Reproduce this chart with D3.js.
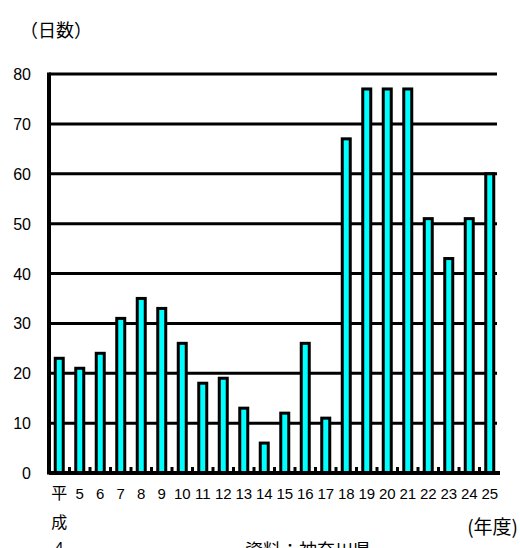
<!DOCTYPE html>
<html>
<head>
<meta charset="utf-8">
<script src="https://cdn.jsdelivr.net/npm/d3@7"></script>
<style>
  body { margin: 0; background: #fff; }
  svg { display: block; }
  text { font-family: "Liberation Sans", Arial, sans-serif; fill: #000; }
  .jp { font-family: "Noto Sans CJK JP", sans-serif; }
</style>
</head>
<body>
<div id="chart"></div>
<script>
// data
var years = ["平", "5", "6", "7", "8", "9", "10", "11", "12", "13", "14",
             "15", "16", "17", "18", "19", "20", "21", "22", "23", "24", "25"];
var days = [23, 21, 24, 31, 35, 33, 26, 18, 19, 13, 6,
            12, 26, 11, 67, 77, 77, 77, 51, 43, 51, 60];
var yTicks = [0, 10, 20, 30, 40, 50, 60, 70, 80];

var width = 520, height = 548;
var margin = {top: 74, right: 20, bottom: 75, left: 49};

var svg = d3.select("#chart").append("svg")
  .attr("width", width)
  .attr("height", height);

var x = d3.scaleBand()
  .domain(d3.range(years.length))
  .range([margin.left, width - margin.right])
  .paddingInner(0).paddingOuter(0);

var y = d3.scaleLinear()
  .domain([0, 80])
  .range([height - margin.bottom, margin.top]);

// gridlines
svg.append("g").selectAll("line")
  .data(yTicks.filter(function(d){ return d > 0; }))
  .enter().append("line")
    .attr("x1", margin.left)
    .attr("x2", width - margin.right - 3)
    .attr("y1", function(d){ return y(d); })
    .attr("y2", function(d){ return y(d); })
    .attr("stroke", "#000")
    .attr("stroke-width", 3);

// y labels
svg.append("g").selectAll("text")
  .data(yTicks)
  .enter().append("text")
    .attr("x", 31)
    .attr("y", function(d){ return y(d) + 6; })
    .attr("text-anchor", "end")
    .style("font-size", "16px")
    .text(function(d){ return d; });

// small ticks between bars
svg.append("g").selectAll("rect")
  .data(d3.range(1, years.length))
  .enter().append("rect")
    .attr("x", function(d){ return x(d) - 1.5; })
    .attr("y", y(0) - 6)
    .attr("width", 3)
    .attr("height", 6)
    .attr("fill", "#000");

// bars
var bw = 8;
svg.append("g").selectAll("rect")
  .data(days)
  .enter().append("rect")
    .attr("x", function(d, i){ return x(i) + x.bandwidth() / 2 - bw / 2; })
    .attr("y", function(d){ return y(d); })
    .attr("width", bw)
    .attr("height", function(d){ return y(0) - y(d); })
    .attr("fill", "#00ffff")
    .attr("stroke", "#000")
    .attr("stroke-width", 3);

// axes lines
svg.append("line")
  .attr("x1", margin.left).attr("x2", margin.left)
  .attr("y1", y(80) - 1.5).attr("y2", y(0) + 1.5)
  .attr("stroke", "#000").attr("stroke-width", 4);
svg.append("line")
  .attr("x1", margin.left).attr("x2", width - margin.right)
  .attr("y1", y(0)).attr("y2", y(0))
  .attr("stroke", "#000").attr("stroke-width", 4);

// x labels
svg.append("g").selectAll("text")
  .data(years)
  .enter().append("text")
    .attr("class", function(d, i){ return i === 0 ? "jp" : null; })
    .attr("x", function(d, i){ return x(i) + x.bandwidth() / 2; })
    .attr("y", 499)
    .attr("text-anchor", "middle")
    .style("font-size", function(d, i){ return i === 0 ? "16px" : "15px"; })
    .text(function(d){ return d; });

svg.append("text").attr("class", "jp")
  .attr("x", x(0) + x.bandwidth() / 2).attr("y", 528)
  .attr("text-anchor", "middle").style("font-size", "16px").text("成");
svg.append("text")
  .attr("x", x(0) + x.bandwidth() / 2).attr("y", 552)
  .attr("text-anchor", "middle").style("font-size", "15px").text("4");

// titles
svg.append("text").attr("class", "jp")
  .attr("x", 20).attr("y", 37)
  .style("font-size", "18px").text("（日数）");
svg.append("text").attr("class", "jp")
  .attr("x", 518).attr("y", 534)
  .attr("text-anchor", "end")
  .style("font-size", "19px").text("(年度)");
svg.append("text").attr("class", "jp")
  .attr("x", 245).attr("y", 557)
  .style("font-size", "18px").text("資料：神奈川県");
</script>
</body>
</html>
